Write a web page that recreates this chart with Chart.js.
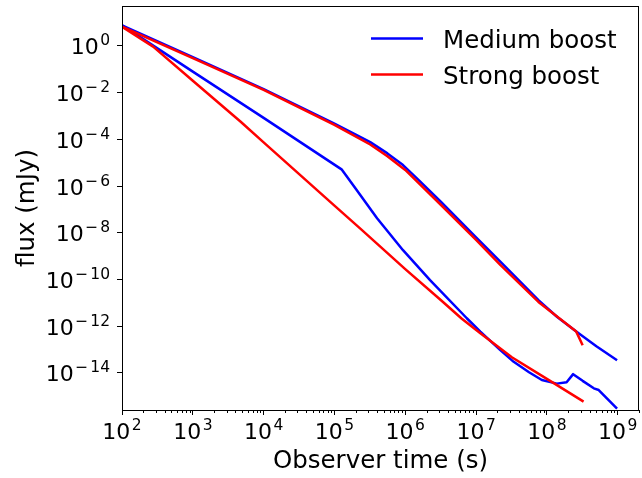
<!DOCTYPE html>
<html>
<head>
<meta charset="utf-8">
<title>Flux vs observer time</title>
<script src="https://cdn.jsdelivr.net/npm/chart.js@4.4.1/dist/chart.umd.min.js"></script>
<style>
  html, body { margin: 0; padding: 0; background: #fff; }
  #wrap { width: 642px; height: 478px; }
</style>
</head>
<body>
<div id="wrap"><canvas id="chart" width="642" height="478"></canvas></div>
<script>
// values (log-log), time in s, flux in mJy
const mediumSlowTime = [1e2, 1e3, 1e4, 1e5, 2e5, 3.2e5, 5.6e5, 9.3e5, 1.55e6, 3.2e6, 1e7, 2.2e7, 7.6e7, 1.4e8, 2.6e8, 5e8, 9.8e8];
const mediumSlowFlux = [7.6, 3.3e-1, 1.4e-2, 4.7e-4, 1.6e-4, 7.6e-5, 2.5e-5, 7.9e-6, 1.8e-6, 2.1e-7, 6.3e-9, 5.8e-10, 1.3e-11, 2.5e-12, 5.9e-13, 1.4e-13, 3.5e-14];

const mediumFastTime = [1e2, 2e2, 1e3, 1e4, 1.26e5, 2e5, 4e5, 9.3e5, 2.24e6, 7.4e6, 1.15e7, 2.2e7, 3.4e7, 5.6e7, 8.5e7, 1.38e8, 1.9e8, 2.35e8, 3.2e8, 4.6e8, 5.4e8, 7.1e8, 9.8e8];
const mediumFastFlux = [7.6, 1.95, 7.9e-2, 8.3e-4, 5.2e-6, 7.6e-7, 4.2e-8, 1.8e-9, 9.5e-11, 2.2e-12, 5.9e-13, 9.5e-14, 3.0e-14, 1.07e-14, 5.0e-15, 3.5e-15, 4.0e-15, 8.9e-15, 4.6e-15, 2.2e-15, 1.86e-15, 7.9e-16, 3.0e-16];

const strongSlowTime = [1e2, 1e3, 1e4, 1e5, 3.2e5, 5.6e5, 1e6, 3.2e6, 1e7, 2.2e7, 7.6e7, 2.6e8, 3.2e8];
const strongSlowFlux = [6.6, 3.0e-1, 1.3e-2, 4.2e-4, 6.0e-5, 1.9e-5, 4.9e-6, 1.55e-7, 5.0e-9, 4.2e-10, 1.1e-11, 5.9e-13, 1.55e-13];

const strongFastTime = [1e2, 2.75e2, 1e3, 4.7e3, 1e4, 1e5, 2.3e5, 1e6, 3.2e6, 6.3e6, 1.15e7, 3.2e7, 1e8, 3.3e8];
const strongFastFlux = [6.6, 9.3e-1, 3.2e-2, 5.8e-4, 7.4e-5, 1.45e-7, 1.55e-8, 2.8e-10, 1.3e-11, 2.1e-12, 5.0e-13, 4.7e-14, 5.6e-15, 5.9e-16];

const seriesLabels = ['Medium boost', 'Strong boost'];
const seriesColors = ['#0000ff', '#ff0000'];

const xTickValues = [1e2, 1e3, 1e4, 1e5, 1e6, 1e7, 1e8, 1e9];
const yTickValues = [1e0, 1e-2, 1e-4, 1e-6, 1e-8, 1e-10, 1e-12, 1e-14];

const FONT = 'DejaVu Sans';

function toPoints(xs, ys) {
  return xs.map((x, i) => ({ x: x, y: ys[i] }));
}

function lineSet(label, xs, ys, color, order) {
  return {
    label: label,
    data: toPoints(xs, ys),
    borderColor: color,
    backgroundColor: color,
    borderWidth: 2.5,
    pointRadius: 0,
    tension: 0,
    fill: false,
    borderJoinStyle: 'round',
    order: order
  };
}

// "10" with a raised exponent, like matplotlib's mathtext labels
function drawPow(ctx, v, anchorX, baseY, align) {
  const e = Math.round(Math.log10(v));
  const minus = e < 0 ? '\u2212' : '';
  const digits = String(Math.abs(e));
  ctx.font = '22px "' + FONT + '"';
  const wb = ctx.measureText('10').width;
  ctx.font = '15.5px "' + FONT + '"';
  const wm = minus ? ctx.measureText(minus).width + 2 : 0;
  const wd = ctx.measureText(digits).width;
  const gap = 1.5;
  const total = wb + gap + wm + wd;
  const x0 = align === 'center' ? anchorX - total / 2 : anchorX - total;
  ctx.font = '22px "' + FONT + '"';
  ctx.fillText('10', x0, baseY);
  ctx.font = '15.5px "' + FONT + '"';
  if (minus) ctx.fillText(minus, x0 + wb + gap, baseY - 9);
  ctx.fillText(digits, x0 + wb + gap + wm, baseY - 9);
}

const tickLabelPlugin = {
  id: 'powTicks',
  afterDraw(chart) {
    const { ctx, chartArea } = chart;
    const xs = chart.scales.x;
    const ys = chart.scales.y;
    ctx.save();
    ctx.fillStyle = '#000';
    ctx.textAlign = 'left';
    ctx.textBaseline = 'alphabetic';
    xTickValues.forEach(v => {
      drawPow(ctx, v, xs.getPixelForValue(v), chartArea.bottom + 28.5, 'center');
    });
    yTickValues.forEach(v => {
      drawPow(ctx, v, chartArea.left - 12, ys.getPixelForValue(v) + 8.5, 'right');
    });
    ctx.restore();
  }
};

// minor ticks on the log x axis + the closed frame round the plot
const framePlugin = {
  id: 'frame',
  afterDatasetsDraw(chart) {
    const { ctx, chartArea } = chart;
    const xs = chart.scales.x;
    ctx.save();
    ctx.strokeStyle = '#000';
    ctx.lineWidth = 1;
    ctx.beginPath();
    for (let d = 1e2; d < 1e10; d *= 10) {
      for (let m = 2; m <= 9; m++) {
        const v = d * m;
        if (v > xs.max) break;
        const px = Math.round(xs.getPixelForValue(v)) + 0.5;
        ctx.moveTo(px, chartArea.bottom);
        ctx.lineTo(px, chartArea.bottom + 3);
      }
    }
    ctx.stroke();
    ctx.strokeRect(chartArea.left + 0.5, chartArea.top + 0.5,
      chartArea.right - chartArea.left - 1, chartArea.bottom - chartArea.top);
    ctx.restore();
  }
};

const legendPlugin = {
  id: 'innerLegend',
  afterDraw(chart) {
    const ctx = chart.ctx;
    ctx.save();
    ctx.font = '24.5px "' + FONT + '"';
    ctx.fillStyle = '#000';
    ctx.textBaseline = 'alphabetic';
    seriesLabels.forEach((label, i) => {
      const y = 38.5 + i * 36;
      ctx.strokeStyle = seriesColors[i];
      ctx.lineWidth = 2.5;
      ctx.beginPath();
      ctx.moveTo(371, y);
      ctx.lineTo(423, y);
      ctx.stroke();
      ctx.fillText(label, 443, y + 9);
    });
    ctx.restore();
  }
};

const ctx = document.getElementById('chart').getContext('2d');
new Chart(ctx, {
  type: 'line',
  data: {
    datasets: [
      lineSet(seriesLabels[0], mediumSlowTime, mediumSlowFlux, seriesColors[0], 1),
      lineSet(seriesLabels[0], mediumFastTime, mediumFastFlux, seriesColors[0], 1),
      lineSet(seriesLabels[1], strongSlowTime, strongSlowFlux, seriesColors[1], 0),
      lineSet(seriesLabels[1], strongFastTime, strongFastFlux, seriesColors[1], 0)
    ]
  },
  options: {
    responsive: false,
    animation: false,
    devicePixelRatio: 1,
    layout: { padding: { top: 6, right: 3, left: 0, bottom: 0 } },
    plugins: {
      legend: { display: false },
      tooltip: { enabled: false }
    },
    scales: {
      x: {
        type: 'logarithmic',
        position: 'bottom',
        min: 1e2,
        max: 2e9,
        afterBuildTicks: s => { s.ticks = xTickValues.map(v => ({ value: v })); },
        afterFit: s => { s.height = 68; },
        ticks: { display: false },
        grid: { drawOnChartArea: false, tickLength: 5, tickColor: '#000', tickWidth: 1 },
        border: { display: false },
        title: {
          display: true,
          text: 'Observer time (s)',
          color: '#000',
          font: { family: FONT, size: 24.5 },
          padding: { top: 0, bottom: 1.5 }
        }
      },
      y: {
        type: 'logarithmic',
        position: 'left',
        min: 2.6e-16,
        max: 51,
        afterBuildTicks: s => { s.ticks = yTickValues.map(v => ({ value: v })); },
        afterFit: s => { s.width = 122; },
        ticks: { display: false },
        grid: { drawOnChartArea: false, tickLength: 5, tickColor: '#000', tickWidth: 1 },
        border: { display: false },
        title: {
          display: true,
          text: 'flux (mJy)',
          color: '#000',
          font: { family: FONT, size: 24.5 },
          padding: { top: 13, bottom: 0 }
        }
      }
    }
  },
  plugins: [framePlugin, tickLabelPlugin, legendPlugin]
});
</script>
</body>
</html>
